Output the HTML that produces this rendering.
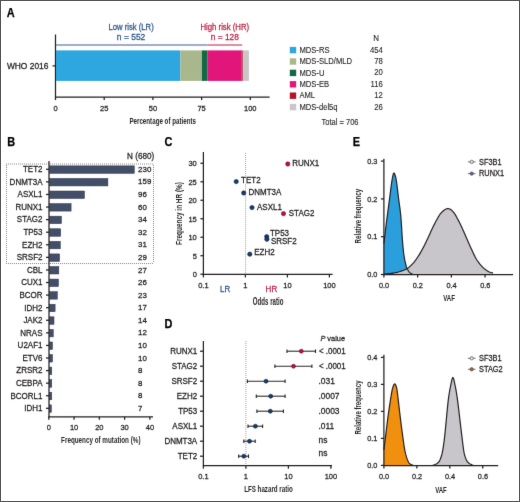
<!DOCTYPE html>
<html><head><meta charset="utf-8"><style>
html,body{margin:0;padding:0;background:#fff;}
.fig{position:relative;width:520px;height:502px;box-sizing:border-box;border:1px solid #545454;overflow:hidden;background:#fff;}
svg{position:absolute;left:-1px;top:-1px;will-change:transform;}
text{font-family:"Liberation Sans",sans-serif;}
</style></head><body><div class="fig">
<svg width="520" height="502" viewBox="0 0 520 502">
<defs><filter id="bl" x="0" y="0" width="520" height="502" filterUnits="userSpaceOnUse" color-interpolation-filters="sRGB"><feConvolveMatrix order="3" kernelMatrix="0.00524 0.06192 0.00524 0.06192 0.73137 0.06192 0.00524 0.06192 0.00524" edgeMode="duplicate" preserveAlpha="false"/></filter></defs>
<g filter="url(#bl)"><rect x="0" y="0" width="520" height="502" fill="#fff"/>
<text x="6.8" y="16.7" font-size="12.4" fill="#000" font-weight="bold" textLength="7.9" lengthAdjust="spacingAndGlyphs" stroke="#000" stroke-width="0.25">A</text>
<text x="7.2" y="145.7" font-size="12.4" fill="#000" font-weight="bold" textLength="7.9" lengthAdjust="spacingAndGlyphs" stroke="#000" stroke-width="0.25">B</text>
<text x="164.4" y="145.9" font-size="12.4" fill="#000" font-weight="bold" textLength="7.9" lengthAdjust="spacingAndGlyphs" stroke="#000" stroke-width="0.25">C</text>
<text x="164.6" y="327.6" font-size="12.4" fill="#000" font-weight="bold" textLength="7.9" lengthAdjust="spacingAndGlyphs" stroke="#000" stroke-width="0.25">D</text>
<text x="352.8" y="146" font-size="12.4" fill="#000" font-weight="bold" textLength="7.3" lengthAdjust="spacingAndGlyphs" stroke="#000" stroke-width="0.25">E</text>
<line x1="55.5" y1="34.5" x2="55.5" y2="97.6" stroke="#231f20" stroke-width="1.25"/>
<line x1="55.0" y1="97.1" x2="269.6" y2="97.1" stroke="#231f20" stroke-width="1.25"/>
<line x1="55.5" y1="97.1" x2="55.5" y2="100.1" stroke="#231f20" stroke-width="1.25"/>
<text x="55.5" y="110.8" font-size="7.9" fill="#231f20" stroke="#231f20" stroke-width="0.26" text-anchor="middle" textLength="4.17" lengthAdjust="spacingAndGlyphs">0</text>
<line x1="104.19999999999999" y1="97.1" x2="104.19999999999999" y2="100.1" stroke="#231f20" stroke-width="1.25"/>
<text x="104.19999999999999" y="110.8" font-size="7.9" fill="#231f20" stroke="#231f20" stroke-width="0.26" text-anchor="middle" textLength="8.35" lengthAdjust="spacingAndGlyphs">25</text>
<line x1="152.89999999999998" y1="97.1" x2="152.89999999999998" y2="100.1" stroke="#231f20" stroke-width="1.25"/>
<text x="152.89999999999998" y="110.8" font-size="7.9" fill="#231f20" stroke="#231f20" stroke-width="0.26" text-anchor="middle" textLength="8.35" lengthAdjust="spacingAndGlyphs">50</text>
<line x1="201.6" y1="97.1" x2="201.6" y2="100.1" stroke="#231f20" stroke-width="1.25"/>
<text x="201.6" y="110.8" font-size="7.9" fill="#231f20" stroke="#231f20" stroke-width="0.26" text-anchor="middle" textLength="8.35" lengthAdjust="spacingAndGlyphs">75</text>
<line x1="250.29999999999998" y1="97.1" x2="250.29999999999998" y2="100.1" stroke="#231f20" stroke-width="1.25"/>
<text x="250.29999999999998" y="110.8" font-size="7.9" fill="#231f20" stroke="#231f20" stroke-width="0.26" text-anchor="middle" textLength="12.52" lengthAdjust="spacingAndGlyphs">100</text>
<line x1="52.5" y1="65.9" x2="55.5" y2="65.9" stroke="#231f20" stroke-width="1.25"/>
<text x="6.9" y="68.5" font-size="8.4" fill="#231f20" stroke="#231f20" stroke-width="0.26" textLength="41.5" lengthAdjust="spacingAndGlyphs">WHO 2016</text>
<line x1="56.0" y1="44.95" x2="207.6" y2="44.95" stroke="#7e92b8" stroke-width="1.6"/>
<line x1="207.6" y1="44.95" x2="242.2" y2="44.95" stroke="#d36a87" stroke-width="1.6"/>
<text x="131.1" y="30.4" font-size="8.4" fill="#2f578c" stroke="#2f578c" stroke-width="0.26" text-anchor="middle" textLength="45.3" lengthAdjust="spacingAndGlyphs">Low risk (LR)</text>
<text x="131.1" y="39.6" font-size="8.4" fill="#2f578c" stroke="#2f578c" stroke-width="0.26" text-anchor="middle" textLength="28.5" lengthAdjust="spacingAndGlyphs">n = 552</text>
<text x="224.8" y="30.4" font-size="8.4" fill="#bf2349" stroke="#bf2349" stroke-width="0.26" text-anchor="middle" textLength="48.7" lengthAdjust="spacingAndGlyphs">High risk (HR)</text>
<text x="224.8" y="39.6" font-size="8.4" fill="#bf2349" stroke="#bf2349" stroke-width="0.26" text-anchor="middle" textLength="28.1" lengthAdjust="spacingAndGlyphs">n = 128</text>
<rect x="56.0" y="50.4" width="124.4" height="30.5" fill="#2ea6df"/>
<rect x="180.4" y="50.4" width="21.5" height="30.5" fill="#a9b88c"/>
<rect x="201.9" y="50.4" width="5.7" height="30.5" fill="#106a46"/>
<rect x="207.6" y="50.4" width="33.8" height="30.5" fill="#e2157a"/>
<rect x="241.4" y="50.4" width="1.4" height="30.5" fill="#b3122d"/>
<rect x="242.8" y="50.4" width="6.1" height="30.5" fill="#c9c6cb"/>
<text x="162.7" y="123.5" font-size="9.7" fill="#231f20" text-anchor="middle" font-weight="bold" textLength="66.6" lengthAdjust="spacingAndGlyphs">Percentage of patients</text>
<text x="376.2" y="40.7" font-size="8.4" fill="#231f20" stroke="#231f20" stroke-width="0.1" text-anchor="middle" textLength="5.76" lengthAdjust="spacingAndGlyphs">N</text>
<rect x="289.8" y="46.9" width="6.4" height="6.4" fill="#2ea6df"/>
<text x="299.4" y="52.7" font-size="8.4" fill="#231f20" stroke="#231f20" stroke-width="0.1" textLength="30.15" lengthAdjust="spacingAndGlyphs">MDS-RS</text>
<text x="382.8" y="52.6" font-size="8.4" fill="#231f20" stroke="#231f20" stroke-width="0.1" text-anchor="end" textLength="12.89" lengthAdjust="spacingAndGlyphs">454</text>
<rect x="289.8" y="58.3" width="6.4" height="6.4" fill="#a9b88c"/>
<text x="299.4" y="64.1" font-size="8.4" fill="#231f20" stroke="#231f20" stroke-width="0.1" textLength="52.67" lengthAdjust="spacingAndGlyphs">MDS-SLD/MLD</text>
<text x="382.8" y="64.0" font-size="8.4" fill="#231f20" stroke="#231f20" stroke-width="0.1" text-anchor="end" textLength="8.6" lengthAdjust="spacingAndGlyphs">78</text>
<rect x="289.8" y="69.7" width="6.4" height="6.4" fill="#106a46"/>
<text x="299.4" y="75.5" font-size="8.4" fill="#231f20" stroke="#231f20" stroke-width="0.1" textLength="25.05" lengthAdjust="spacingAndGlyphs">MDS-U</text>
<text x="382.8" y="75.39999999999999" font-size="8.4" fill="#231f20" stroke="#231f20" stroke-width="0.1" text-anchor="end" textLength="8.6" lengthAdjust="spacingAndGlyphs">20</text>
<rect x="289.8" y="81.10000000000001" width="6.4" height="6.4" fill="#e2157a"/>
<text x="299.4" y="86.9" font-size="8.4" fill="#231f20" stroke="#231f20" stroke-width="0.1" textLength="29.73" lengthAdjust="spacingAndGlyphs">MDS-EB</text>
<text x="382.8" y="86.8" font-size="8.4" fill="#231f20" stroke="#231f20" stroke-width="0.1" text-anchor="end" textLength="12.32" lengthAdjust="spacingAndGlyphs">116</text>
<rect x="289.8" y="92.5" width="6.4" height="6.4" fill="#b3122d"/>
<text x="299.4" y="98.3" font-size="8.4" fill="#231f20" stroke="#231f20" stroke-width="0.1" textLength="15.72" lengthAdjust="spacingAndGlyphs">AML</text>
<text x="382.8" y="98.19999999999999" font-size="8.4" fill="#231f20" stroke="#231f20" stroke-width="0.1" text-anchor="end" textLength="8.6" lengthAdjust="spacingAndGlyphs">12</text>
<rect x="289.8" y="103.9" width="6.4" height="6.4" fill="#c9c6cb"/>
<text x="299.4" y="109.7" font-size="8.4" fill="#231f20" stroke="#231f20" stroke-width="0.1" textLength="38.24" lengthAdjust="spacingAndGlyphs">MDS-del5q</text>
<text x="382.8" y="109.6" font-size="8.4" fill="#231f20" stroke="#231f20" stroke-width="0.1" text-anchor="end" textLength="8.6" lengthAdjust="spacingAndGlyphs">26</text>
<text x="340" y="124.8" font-size="8.4" fill="#231f20" stroke="#231f20" stroke-width="0.1" text-anchor="middle" textLength="37" lengthAdjust="spacingAndGlyphs">Total = 706</text>
<line x1="6" y1="164" x2="154" y2="164" stroke="#888" stroke-width="1" stroke-dasharray="1 1"/>
<line x1="6" y1="263.5" x2="154" y2="263.5" stroke="#888" stroke-width="1" stroke-dasharray="1 1"/>
<line x1="6.5" y1="165" x2="6.5" y2="263" stroke="#888" stroke-width="1" stroke-dasharray="1 1"/>
<line x1="153.5" y1="165" x2="153.5" y2="263" stroke="#888" stroke-width="1" stroke-dasharray="1 1"/>
<rect x="49.5" y="165.85" width="84.77" height="7.5" fill="#434f68" stroke="#2e3548" stroke-width="0.5"/>
<line x1="46" y1="169.3" x2="49.0" y2="169.3" stroke="#231f20" stroke-width="1.25"/>
<text x="42.5" y="172.15" font-size="8.6" fill="#231f20" stroke="#231f20" stroke-width="0.26" text-anchor="end" textLength="19.55" lengthAdjust="spacingAndGlyphs">TET2</text>
<text x="138.1" y="171.9" font-size="7.9" fill="#231f20" stroke="#231f20" stroke-width="0.26" textLength="13.18" lengthAdjust="spacingAndGlyphs">230</text>
<rect x="49.5" y="178.43" width="58.39" height="7.5" fill="#434f68" stroke="#2e3548" stroke-width="0.5"/>
<line x1="46" y1="181.88000000000002" x2="49.0" y2="181.88000000000002" stroke="#231f20" stroke-width="1.25"/>
<text x="42.5" y="184.73000000000002" font-size="8.6" fill="#231f20" stroke="#231f20" stroke-width="0.26" text-anchor="end" textLength="32.88" lengthAdjust="spacingAndGlyphs">DNMT3A</text>
<text x="138.1" y="184.48000000000002" font-size="7.9" fill="#231f20" stroke="#231f20" stroke-width="0.26" textLength="13.18" lengthAdjust="spacingAndGlyphs">159</text>
<rect x="49.5" y="191.01" width="34.98" height="7.5" fill="#434f68" stroke="#2e3548" stroke-width="0.5"/>
<line x1="46" y1="194.46" x2="49.0" y2="194.46" stroke="#231f20" stroke-width="1.25"/>
<text x="42.5" y="197.31" font-size="8.6" fill="#231f20" stroke="#231f20" stroke-width="0.26" text-anchor="end" textLength="24.9" lengthAdjust="spacingAndGlyphs">ASXL1</text>
<text x="138.1" y="197.06" font-size="7.9" fill="#231f20" stroke="#231f20" stroke-width="0.26" textLength="8.79" lengthAdjust="spacingAndGlyphs">96</text>
<rect x="49.5" y="203.59" width="21.6" height="7.5" fill="#434f68" stroke="#2e3548" stroke-width="0.5"/>
<line x1="46" y1="207.04000000000002" x2="49.0" y2="207.04000000000002" stroke="#231f20" stroke-width="1.25"/>
<text x="42.5" y="209.89000000000001" font-size="8.6" fill="#231f20" stroke="#231f20" stroke-width="0.26" text-anchor="end" textLength="27.11" lengthAdjust="spacingAndGlyphs">RUNX1</text>
<text x="138.1" y="209.64000000000001" font-size="7.9" fill="#231f20" stroke="#231f20" stroke-width="0.26" textLength="8.79" lengthAdjust="spacingAndGlyphs">60</text>
<rect x="49.5" y="216.17" width="11.94" height="7.5" fill="#434f68" stroke="#2e3548" stroke-width="0.5"/>
<line x1="46" y1="219.62" x2="49.0" y2="219.62" stroke="#231f20" stroke-width="1.25"/>
<text x="42.5" y="222.47" font-size="8.6" fill="#231f20" stroke="#231f20" stroke-width="0.26" text-anchor="end" textLength="25.63" lengthAdjust="spacingAndGlyphs">STAG2</text>
<text x="138.1" y="222.22" font-size="7.9" fill="#231f20" stroke="#231f20" stroke-width="0.26" textLength="8.79" lengthAdjust="spacingAndGlyphs">34</text>
<rect x="49.5" y="228.75" width="11.19" height="7.5" fill="#434f68" stroke="#2e3548" stroke-width="0.5"/>
<line x1="46" y1="232.20000000000002" x2="49.0" y2="232.20000000000002" stroke="#231f20" stroke-width="1.25"/>
<text x="42.5" y="235.05" font-size="8.6" fill="#231f20" stroke="#231f20" stroke-width="0.26" text-anchor="end" textLength="19.12" lengthAdjust="spacingAndGlyphs">TP53</text>
<text x="138.1" y="234.8" font-size="7.9" fill="#231f20" stroke="#231f20" stroke-width="0.26" textLength="8.79" lengthAdjust="spacingAndGlyphs">32</text>
<rect x="49.5" y="241.33" width="10.82" height="7.5" fill="#434f68" stroke="#2e3548" stroke-width="0.5"/>
<line x1="46" y1="244.78000000000003" x2="49.0" y2="244.78000000000003" stroke="#231f20" stroke-width="1.25"/>
<text x="42.5" y="247.63000000000002" font-size="8.6" fill="#231f20" stroke="#231f20" stroke-width="0.26" text-anchor="end" textLength="20.44" lengthAdjust="spacingAndGlyphs">EZH2</text>
<text x="138.1" y="247.38000000000002" font-size="7.9" fill="#231f20" stroke="#231f20" stroke-width="0.26" textLength="8.79" lengthAdjust="spacingAndGlyphs">31</text>
<rect x="49.5" y="253.91" width="10.08" height="7.5" fill="#434f68" stroke="#2e3548" stroke-width="0.5"/>
<line x1="46" y1="257.36" x2="49.0" y2="257.36" stroke="#231f20" stroke-width="1.25"/>
<text x="42.5" y="260.21000000000004" font-size="8.6" fill="#231f20" stroke="#231f20" stroke-width="0.26" text-anchor="end" textLength="25.78" lengthAdjust="spacingAndGlyphs">SRSF2</text>
<text x="138.1" y="259.96000000000004" font-size="7.9" fill="#231f20" stroke="#231f20" stroke-width="0.26" textLength="8.79" lengthAdjust="spacingAndGlyphs">29</text>
<rect x="49.5" y="266.49" width="9.33" height="7.5" fill="#434f68" stroke="#2e3548" stroke-width="0.5"/>
<line x1="46" y1="269.94" x2="49.0" y2="269.94" stroke="#231f20" stroke-width="1.25"/>
<text x="42.5" y="272.79" font-size="8.6" fill="#231f20" stroke="#231f20" stroke-width="0.26" text-anchor="end" textLength="15.56" lengthAdjust="spacingAndGlyphs">CBL</text>
<text x="138.1" y="272.54" font-size="7.9" fill="#231f20" stroke="#231f20" stroke-width="0.26" textLength="8.79" lengthAdjust="spacingAndGlyphs">27</text>
<rect x="49.5" y="279.07" width="8.96" height="7.5" fill="#434f68" stroke="#2e3548" stroke-width="0.5"/>
<line x1="46" y1="282.52" x2="49.0" y2="282.52" stroke="#231f20" stroke-width="1.25"/>
<text x="42.5" y="285.37" font-size="8.6" fill="#231f20" stroke="#231f20" stroke-width="0.26" text-anchor="end" textLength="21.34" lengthAdjust="spacingAndGlyphs">CUX1</text>
<text x="138.1" y="285.12" font-size="7.9" fill="#231f20" stroke="#231f20" stroke-width="0.26" textLength="8.79" lengthAdjust="spacingAndGlyphs">26</text>
<rect x="49.5" y="291.65" width="7.85" height="7.5" fill="#434f68" stroke="#2e3548" stroke-width="0.5"/>
<line x1="46" y1="295.1" x2="49.0" y2="295.1" stroke="#231f20" stroke-width="1.25"/>
<text x="42.5" y="297.95000000000005" font-size="8.6" fill="#231f20" stroke="#231f20" stroke-width="0.26" text-anchor="end" textLength="23.11" lengthAdjust="spacingAndGlyphs">BCOR</text>
<text x="138.1" y="297.70000000000005" font-size="7.9" fill="#231f20" stroke="#231f20" stroke-width="0.26" textLength="8.79" lengthAdjust="spacingAndGlyphs">23</text>
<rect x="49.5" y="304.23" width="5.62" height="7.5" fill="#434f68" stroke="#2e3548" stroke-width="0.5"/>
<line x1="46" y1="307.68" x2="49.0" y2="307.68" stroke="#231f20" stroke-width="1.25"/>
<text x="42.5" y="310.53000000000003" font-size="8.6" fill="#231f20" stroke="#231f20" stroke-width="0.26" text-anchor="end" textLength="18.22" lengthAdjust="spacingAndGlyphs">IDH2</text>
<text x="138.1" y="310.28000000000003" font-size="7.9" fill="#231f20" stroke="#231f20" stroke-width="0.26" textLength="8.79" lengthAdjust="spacingAndGlyphs">17</text>
<rect x="49.5" y="316.81" width="4.5" height="7.5" fill="#434f68" stroke="#2e3548" stroke-width="0.5"/>
<line x1="46" y1="320.26" x2="49.0" y2="320.26" stroke="#231f20" stroke-width="1.25"/>
<text x="42.5" y="323.11" font-size="8.6" fill="#231f20" stroke="#231f20" stroke-width="0.26" text-anchor="end" textLength="19.12" lengthAdjust="spacingAndGlyphs">JAK2</text>
<text x="138.1" y="322.86" font-size="7.9" fill="#231f20" stroke="#231f20" stroke-width="0.26" textLength="8.79" lengthAdjust="spacingAndGlyphs">14</text>
<rect x="49.5" y="329.39" width="3.76" height="7.5" fill="#434f68" stroke="#2e3548" stroke-width="0.5"/>
<line x1="46" y1="332.84000000000003" x2="49.0" y2="332.84000000000003" stroke="#231f20" stroke-width="1.25"/>
<text x="42.5" y="335.69000000000005" font-size="8.6" fill="#231f20" stroke="#231f20" stroke-width="0.26" text-anchor="end" textLength="22.22" lengthAdjust="spacingAndGlyphs">NRAS</text>
<text x="138.1" y="335.44000000000005" font-size="7.9" fill="#231f20" stroke="#231f20" stroke-width="0.26" textLength="8.79" lengthAdjust="spacingAndGlyphs">12</text>
<rect x="49.5" y="341.97" width="3.02" height="7.5" fill="#434f68" stroke="#2e3548" stroke-width="0.5"/>
<line x1="46" y1="345.42" x2="49.0" y2="345.42" stroke="#231f20" stroke-width="1.25"/>
<text x="42.5" y="348.27000000000004" font-size="8.6" fill="#231f20" stroke="#231f20" stroke-width="0.26" text-anchor="end" textLength="24.89" lengthAdjust="spacingAndGlyphs">U2AF1</text>
<text x="138.1" y="348.02000000000004" font-size="7.9" fill="#231f20" stroke="#231f20" stroke-width="0.26" textLength="8.79" lengthAdjust="spacingAndGlyphs">10</text>
<rect x="49.5" y="354.55" width="3.02" height="7.5" fill="#434f68" stroke="#2e3548" stroke-width="0.5"/>
<line x1="46" y1="358.0" x2="49.0" y2="358.0" stroke="#231f20" stroke-width="1.25"/>
<text x="42.5" y="360.85" font-size="8.6" fill="#231f20" stroke="#231f20" stroke-width="0.26" text-anchor="end" textLength="20.0" lengthAdjust="spacingAndGlyphs">ETV6</text>
<text x="138.1" y="360.6" font-size="7.9" fill="#231f20" stroke="#231f20" stroke-width="0.26" textLength="8.79" lengthAdjust="spacingAndGlyphs">10</text>
<rect x="49.5" y="367.13" width="2.27" height="7.5" fill="#434f68" stroke="#2e3548" stroke-width="0.5"/>
<line x1="46" y1="370.58000000000004" x2="49.0" y2="370.58000000000004" stroke="#231f20" stroke-width="1.25"/>
<text x="42.5" y="373.43000000000006" font-size="8.6" fill="#231f20" stroke="#231f20" stroke-width="0.26" text-anchor="end" textLength="26.22" lengthAdjust="spacingAndGlyphs">ZRSR2</text>
<text x="138.1" y="373.18000000000006" font-size="7.9" fill="#231f20" stroke="#231f20" stroke-width="0.26" textLength="4.39" lengthAdjust="spacingAndGlyphs">8</text>
<rect x="49.5" y="379.71" width="2.27" height="7.5" fill="#434f68" stroke="#2e3548" stroke-width="0.5"/>
<line x1="46" y1="383.16" x2="49.0" y2="383.16" stroke="#231f20" stroke-width="1.25"/>
<text x="42.5" y="386.01000000000005" font-size="8.6" fill="#231f20" stroke="#231f20" stroke-width="0.26" text-anchor="end" textLength="26.52" lengthAdjust="spacingAndGlyphs">CEBPA</text>
<text x="138.1" y="385.76000000000005" font-size="7.9" fill="#231f20" stroke="#231f20" stroke-width="0.26" textLength="4.39" lengthAdjust="spacingAndGlyphs">8</text>
<rect x="49.5" y="392.29" width="2.27" height="7.5" fill="#434f68" stroke="#2e3548" stroke-width="0.5"/>
<line x1="46" y1="395.74" x2="49.0" y2="395.74" stroke="#231f20" stroke-width="1.25"/>
<text x="42.5" y="398.59000000000003" font-size="8.6" fill="#231f20" stroke="#231f20" stroke-width="0.26" text-anchor="end" textLength="32.0" lengthAdjust="spacingAndGlyphs">BCORL1</text>
<text x="138.1" y="398.34000000000003" font-size="7.9" fill="#231f20" stroke="#231f20" stroke-width="0.26" textLength="4.39" lengthAdjust="spacingAndGlyphs">8</text>
<rect x="49.5" y="404.87" width="1.9" height="7.5" fill="#434f68" stroke="#2e3548" stroke-width="0.5"/>
<line x1="46" y1="408.32000000000005" x2="49.0" y2="408.32000000000005" stroke="#231f20" stroke-width="1.25"/>
<text x="42.5" y="411.1700000000001" font-size="8.6" fill="#231f20" stroke="#231f20" stroke-width="0.26" text-anchor="end" textLength="18.22" lengthAdjust="spacingAndGlyphs">IDH1</text>
<text x="138.1" y="410.9200000000001" font-size="7.9" fill="#231f20" stroke="#231f20" stroke-width="0.26" textLength="4.39" lengthAdjust="spacingAndGlyphs">7</text>
<line x1="49.0" y1="161" x2="49.0" y2="417.3" stroke="#231f20" stroke-width="1.25"/>
<line x1="48.5" y1="416.8" x2="153" y2="416.8" stroke="#231f20" stroke-width="1.25"/>
<line x1="48.8" y1="416.8" x2="48.8" y2="419.8" stroke="#231f20" stroke-width="1.25"/>
<text x="48.8" y="429.9" font-size="7.9" fill="#231f20" stroke="#231f20" stroke-width="0.26" text-anchor="middle" textLength="4.17" lengthAdjust="spacingAndGlyphs">0</text>
<line x1="74.07" y1="416.8" x2="74.07" y2="419.8" stroke="#231f20" stroke-width="1.25"/>
<text x="74.07" y="429.9" font-size="7.9" fill="#231f20" stroke="#231f20" stroke-width="0.26" text-anchor="middle" textLength="8.35" lengthAdjust="spacingAndGlyphs">10</text>
<line x1="99.34" y1="416.8" x2="99.34" y2="419.8" stroke="#231f20" stroke-width="1.25"/>
<text x="99.34" y="429.9" font-size="7.9" fill="#231f20" stroke="#231f20" stroke-width="0.26" text-anchor="middle" textLength="8.35" lengthAdjust="spacingAndGlyphs">20</text>
<line x1="124.61" y1="416.8" x2="124.61" y2="419.8" stroke="#231f20" stroke-width="1.25"/>
<text x="124.61" y="429.9" font-size="7.9" fill="#231f20" stroke="#231f20" stroke-width="0.26" text-anchor="middle" textLength="8.35" lengthAdjust="spacingAndGlyphs">30</text>
<line x1="149.88" y1="416.8" x2="149.88" y2="419.8" stroke="#231f20" stroke-width="1.25"/>
<text x="149.88" y="429.9" font-size="7.9" fill="#231f20" stroke="#231f20" stroke-width="0.26" text-anchor="middle" textLength="8.35" lengthAdjust="spacingAndGlyphs">40</text>
<text x="127.1" y="158.6" font-size="8.4" fill="#231f20" stroke="#231f20" stroke-width="0.26" textLength="27.1" lengthAdjust="spacingAndGlyphs">N (680)</text>
<text x="100.8" y="442.5" font-size="9.9" fill="#231f20" text-anchor="middle" font-weight="bold" textLength="79.4" lengthAdjust="spacingAndGlyphs">Frequency of mutation (%)</text>
<line x1="203.4" y1="152" x2="203.4" y2="274.95" stroke="#231f20" stroke-width="1.25"/>
<line x1="202.9" y1="274.45" x2="332.6" y2="274.45" stroke="#231f20" stroke-width="1.25"/>
<line x1="200.4" y1="274.2" x2="203.4" y2="274.2" stroke="#231f20" stroke-width="1.25"/>
<text x="196.8" y="277.0" font-size="7.9" fill="#231f20" stroke="#231f20" stroke-width="0.26" text-anchor="end" textLength="4.17" lengthAdjust="spacingAndGlyphs">0</text>
<line x1="200.4" y1="255.71499999999997" x2="203.4" y2="255.71499999999997" stroke="#231f20" stroke-width="1.25"/>
<text x="196.8" y="258.515" font-size="7.9" fill="#231f20" stroke="#231f20" stroke-width="0.26" text-anchor="end" textLength="4.17" lengthAdjust="spacingAndGlyphs">5</text>
<line x1="200.4" y1="237.23" x2="203.4" y2="237.23" stroke="#231f20" stroke-width="1.25"/>
<text x="196.8" y="240.03" font-size="7.9" fill="#231f20" stroke="#231f20" stroke-width="0.26" text-anchor="end" textLength="8.35" lengthAdjust="spacingAndGlyphs">10</text>
<line x1="200.4" y1="218.745" x2="203.4" y2="218.745" stroke="#231f20" stroke-width="1.25"/>
<text x="196.8" y="221.54500000000002" font-size="7.9" fill="#231f20" stroke="#231f20" stroke-width="0.26" text-anchor="end" textLength="8.35" lengthAdjust="spacingAndGlyphs">15</text>
<line x1="200.4" y1="200.26" x2="203.4" y2="200.26" stroke="#231f20" stroke-width="1.25"/>
<text x="196.8" y="203.06" font-size="7.9" fill="#231f20" stroke="#231f20" stroke-width="0.26" text-anchor="end" textLength="8.35" lengthAdjust="spacingAndGlyphs">20</text>
<line x1="200.4" y1="181.77499999999998" x2="203.4" y2="181.77499999999998" stroke="#231f20" stroke-width="1.25"/>
<text x="196.8" y="184.575" font-size="7.9" fill="#231f20" stroke="#231f20" stroke-width="0.26" text-anchor="end" textLength="8.35" lengthAdjust="spacingAndGlyphs">25</text>
<line x1="200.4" y1="163.29" x2="203.4" y2="163.29" stroke="#231f20" stroke-width="1.25"/>
<text x="196.8" y="166.09" font-size="7.9" fill="#231f20" stroke="#231f20" stroke-width="0.26" text-anchor="end" textLength="8.35" lengthAdjust="spacingAndGlyphs">30</text>
<line x1="203.4" y1="274.45" x2="203.4" y2="277.45" stroke="#231f20" stroke-width="1.25"/>
<text x="203.4" y="288.2" font-size="7.9" fill="#231f20" stroke="#231f20" stroke-width="0.26" text-anchor="middle" textLength="10.43" lengthAdjust="spacingAndGlyphs">0.1</text>
<line x1="245.4" y1="274.45" x2="245.4" y2="277.45" stroke="#231f20" stroke-width="1.25"/>
<text x="245.4" y="288.2" font-size="7.9" fill="#231f20" stroke="#231f20" stroke-width="0.26" text-anchor="middle" textLength="4.17" lengthAdjust="spacingAndGlyphs">1</text>
<line x1="287.4" y1="274.45" x2="287.4" y2="277.45" stroke="#231f20" stroke-width="1.25"/>
<text x="287.4" y="288.2" font-size="7.9" fill="#231f20" stroke="#231f20" stroke-width="0.26" text-anchor="middle" textLength="8.35" lengthAdjust="spacingAndGlyphs">10</text>
<line x1="329.4" y1="274.45" x2="329.4" y2="277.45" stroke="#231f20" stroke-width="1.25"/>
<text x="329.4" y="288.2" font-size="7.9" fill="#231f20" stroke="#231f20" stroke-width="0.26" text-anchor="middle" textLength="12.52" lengthAdjust="spacingAndGlyphs">100</text>
<line x1="245.6" y1="153" x2="245.6" y2="175.6" stroke="#666" stroke-width="0.8" stroke-dasharray="0.8 1.2"/>
<line x1="245.6" y1="183.8" x2="245.6" y2="274.45" stroke="#666" stroke-width="0.8" stroke-dasharray="0.8 1.2"/>
<text x="225.2" y="292.3" font-size="8.8" fill="#2f578c" stroke="#2f578c" stroke-width="0.26" text-anchor="middle" textLength="10.2" lengthAdjust="spacingAndGlyphs">LR</text>
<text x="271.4" y="292.2" font-size="8.8" fill="#bf2349" stroke="#bf2349" stroke-width="0.26" text-anchor="middle" textLength="11.6" lengthAdjust="spacingAndGlyphs">HR</text>
<text x="268.1" y="305.4" font-size="10.0" fill="#231f20" text-anchor="middle" font-weight="bold" textLength="30.6" lengthAdjust="spacingAndGlyphs">Odds ratio</text>
<text transform="translate(182.4 213.5) rotate(-90)" font-size="9.9" font-weight="bold" fill="#231f20" text-anchor="middle" textLength="62.8" lengthAdjust="spacingAndGlyphs">Frequency in HR (%)</text>
<circle cx="287.8" cy="164" r="2.15" fill="#b8133a" stroke="#7a0c25" stroke-width="0.6"/>
<text x="292.2" y="166" font-size="8.4" fill="#231f20" stroke="#231f20" stroke-width="0.26" textLength="27.05" lengthAdjust="spacingAndGlyphs">RUNX1</text>
<circle cx="236.2" cy="181.6" r="2.15" fill="#163c68" stroke="#0b2444" stroke-width="0.6"/>
<text x="241.1" y="183.4" font-size="8.4" fill="#231f20" stroke="#231f20" stroke-width="0.26" textLength="19.51" lengthAdjust="spacingAndGlyphs">TET2</text>
<circle cx="243.7" cy="193" r="2.15" fill="#163c68" stroke="#0b2444" stroke-width="0.6"/>
<text x="248.5" y="194.6" font-size="8.4" fill="#231f20" stroke="#231f20" stroke-width="0.26" textLength="32.81" lengthAdjust="spacingAndGlyphs">DNMT3A</text>
<circle cx="252" cy="207.6" r="2.15" fill="#163c68" stroke="#0b2444" stroke-width="0.6"/>
<text x="257" y="209.6" font-size="8.4" fill="#231f20" stroke="#231f20" stroke-width="0.26" textLength="24.85" lengthAdjust="spacingAndGlyphs">ASXL1</text>
<circle cx="283.5" cy="213.7" r="2.15" fill="#b8133a" stroke="#7a0c25" stroke-width="0.6"/>
<text x="288.8" y="215.6" font-size="8.4" fill="#231f20" stroke="#231f20" stroke-width="0.26" textLength="25.57" lengthAdjust="spacingAndGlyphs">STAG2</text>
<circle cx="266.7" cy="236.7" r="2.15" fill="#163c68" stroke="#0b2444" stroke-width="0.6"/>
<text x="270" y="235.6" font-size="8.4" fill="#231f20" stroke="#231f20" stroke-width="0.26" textLength="19.07" lengthAdjust="spacingAndGlyphs">TP53</text>
<circle cx="266.9" cy="239.3" r="2.15" fill="#163c68" stroke="#0b2444" stroke-width="0.6"/>
<text x="270.9" y="243.5" font-size="8.4" fill="#231f20" stroke="#231f20" stroke-width="0.26" textLength="25.72" lengthAdjust="spacingAndGlyphs">SRSF2</text>
<circle cx="249.8" cy="254.2" r="2.15" fill="#163c68" stroke="#0b2444" stroke-width="0.6"/>
<text x="254.3" y="255.2" font-size="8.4" fill="#231f20" stroke="#231f20" stroke-width="0.26" textLength="20.4" lengthAdjust="spacingAndGlyphs">EZH2</text>
<line x1="203.4" y1="341" x2="203.4" y2="466.2" stroke="#231f20" stroke-width="1.25"/>
<line x1="202.9" y1="465.7" x2="332" y2="465.7" stroke="#231f20" stroke-width="1.25"/>
<line x1="203.4" y1="465.7" x2="203.4" y2="468.7" stroke="#231f20" stroke-width="1.25"/>
<text x="203.4" y="479.3" font-size="7.9" fill="#231f20" stroke="#231f20" stroke-width="0.26" text-anchor="middle" textLength="10.43" lengthAdjust="spacingAndGlyphs">0.1</text>
<line x1="245.9" y1="465.7" x2="245.9" y2="468.7" stroke="#231f20" stroke-width="1.25"/>
<text x="245.9" y="479.3" font-size="7.9" fill="#231f20" stroke="#231f20" stroke-width="0.26" text-anchor="middle" textLength="4.17" lengthAdjust="spacingAndGlyphs">1</text>
<line x1="288.4" y1="465.7" x2="288.4" y2="468.7" stroke="#231f20" stroke-width="1.25"/>
<text x="288.4" y="479.3" font-size="7.9" fill="#231f20" stroke="#231f20" stroke-width="0.26" text-anchor="middle" textLength="8.35" lengthAdjust="spacingAndGlyphs">10</text>
<line x1="330.9" y1="465.7" x2="330.9" y2="468.7" stroke="#231f20" stroke-width="1.25"/>
<text x="330.9" y="479.3" font-size="7.9" fill="#231f20" stroke="#231f20" stroke-width="0.26" text-anchor="middle" textLength="12.52" lengthAdjust="spacingAndGlyphs">100</text>
<line x1="245.9" y1="341" x2="245.9" y2="465.7" stroke="#666" stroke-width="0.8" stroke-dasharray="0.8 1.2"/>
<line x1="200" y1="351.2" x2="203.4" y2="351.2" stroke="#231f20" stroke-width="1.25"/>
<text x="197.2" y="353.9" font-size="8.4" fill="#231f20" stroke="#231f20" stroke-width="0.26" text-anchor="end" textLength="27.05" lengthAdjust="spacingAndGlyphs">RUNX1</text>
<line x1="287" y1="351.2" x2="315.5" y2="351.2" stroke="#2c2c2c" stroke-width="1.1"/>
<line x1="287" y1="349.4" x2="287" y2="353.0" stroke="#222" stroke-width="1.1"/>
<line x1="315.5" y1="349.4" x2="315.5" y2="353.0" stroke="#222" stroke-width="1.1"/>
<circle cx="301.3" cy="351.2" r="2.0" fill="#b8133a" stroke="#7a0c25" stroke-width="0.6"/>
<text x="318.9" y="353.7" font-size="8.4" fill="#231f20" stroke="#231f20" stroke-width="0.26" textLength="26.85" lengthAdjust="spacingAndGlyphs">&lt; .0001</text>
<line x1="200" y1="366.2" x2="203.4" y2="366.2" stroke="#231f20" stroke-width="1.25"/>
<text x="197.2" y="368.9" font-size="8.4" fill="#231f20" stroke="#231f20" stroke-width="0.26" text-anchor="end" textLength="25.57" lengthAdjust="spacingAndGlyphs">STAG2</text>
<line x1="274.9" y1="366.2" x2="311.9" y2="366.2" stroke="#2c2c2c" stroke-width="1.1"/>
<line x1="274.9" y1="364.4" x2="274.9" y2="368.0" stroke="#222" stroke-width="1.1"/>
<line x1="311.9" y1="364.4" x2="311.9" y2="368.0" stroke="#222" stroke-width="1.1"/>
<circle cx="293.5" cy="366.2" r="2.0" fill="#b8133a" stroke="#7a0c25" stroke-width="0.6"/>
<text x="318.9" y="368.7" font-size="8.4" fill="#231f20" stroke="#231f20" stroke-width="0.26" textLength="26.85" lengthAdjust="spacingAndGlyphs">&lt; .0001</text>
<line x1="200" y1="381.2" x2="203.4" y2="381.2" stroke="#231f20" stroke-width="1.25"/>
<text x="197.2" y="383.9" font-size="8.4" fill="#231f20" stroke="#231f20" stroke-width="0.26" text-anchor="end" textLength="25.72" lengthAdjust="spacingAndGlyphs">SRSF2</text>
<line x1="247.4" y1="381.2" x2="285.1" y2="381.2" stroke="#2c2c2c" stroke-width="1.1"/>
<line x1="247.4" y1="379.4" x2="247.4" y2="383.0" stroke="#222" stroke-width="1.1"/>
<line x1="285.1" y1="379.4" x2="285.1" y2="383.0" stroke="#222" stroke-width="1.1"/>
<circle cx="266" cy="381.2" r="2.0" fill="#163c68" stroke="#0b2444" stroke-width="0.6"/>
<text x="318.5" y="383.7" font-size="8.4" fill="#231f20" stroke="#231f20" stroke-width="0.26" textLength="16.35" lengthAdjust="spacingAndGlyphs">.031</text>
<line x1="200" y1="396.2" x2="203.4" y2="396.2" stroke="#231f20" stroke-width="1.25"/>
<text x="197.2" y="398.9" font-size="8.4" fill="#231f20" stroke="#231f20" stroke-width="0.26" text-anchor="end" textLength="20.4" lengthAdjust="spacingAndGlyphs">EZH2</text>
<line x1="256.3" y1="396.2" x2="285.1" y2="396.2" stroke="#2c2c2c" stroke-width="1.1"/>
<line x1="256.3" y1="394.4" x2="256.3" y2="398.0" stroke="#222" stroke-width="1.1"/>
<line x1="285.1" y1="394.4" x2="285.1" y2="398.0" stroke="#222" stroke-width="1.1"/>
<circle cx="270.7" cy="396.2" r="2.0" fill="#163c68" stroke="#0b2444" stroke-width="0.6"/>
<text x="318.5" y="398.7" font-size="8.4" fill="#231f20" stroke="#231f20" stroke-width="0.26" textLength="21.02" lengthAdjust="spacingAndGlyphs">.0007</text>
<line x1="200" y1="411.2" x2="203.4" y2="411.2" stroke="#231f20" stroke-width="1.25"/>
<text x="197.2" y="413.9" font-size="8.4" fill="#231f20" stroke="#231f20" stroke-width="0.26" text-anchor="end" textLength="19.07" lengthAdjust="spacingAndGlyphs">TP53</text>
<line x1="256.9" y1="411.2" x2="283.4" y2="411.2" stroke="#2c2c2c" stroke-width="1.1"/>
<line x1="256.9" y1="409.4" x2="256.9" y2="413.0" stroke="#222" stroke-width="1.1"/>
<line x1="283.4" y1="409.4" x2="283.4" y2="413.0" stroke="#222" stroke-width="1.1"/>
<circle cx="270.3" cy="411.2" r="2.0" fill="#163c68" stroke="#0b2444" stroke-width="0.6"/>
<text x="318.5" y="413.7" font-size="8.4" fill="#231f20" stroke="#231f20" stroke-width="0.26" textLength="21.02" lengthAdjust="spacingAndGlyphs">.0003</text>
<line x1="200" y1="426.2" x2="203.4" y2="426.2" stroke="#231f20" stroke-width="1.25"/>
<text x="197.2" y="428.9" font-size="8.4" fill="#231f20" stroke="#231f20" stroke-width="0.26" text-anchor="end" textLength="24.85" lengthAdjust="spacingAndGlyphs">ASXL1</text>
<line x1="248" y1="426.2" x2="262.6" y2="426.2" stroke="#2c2c2c" stroke-width="1.1"/>
<line x1="248" y1="424.4" x2="248" y2="428.0" stroke="#222" stroke-width="1.1"/>
<line x1="262.6" y1="424.4" x2="262.6" y2="428.0" stroke="#222" stroke-width="1.1"/>
<circle cx="255.4" cy="426.2" r="2.0" fill="#163c68" stroke="#0b2444" stroke-width="0.6"/>
<text x="318.5" y="428.7" font-size="8.4" fill="#231f20" stroke="#231f20" stroke-width="0.26" textLength="15.73" lengthAdjust="spacingAndGlyphs">.011</text>
<line x1="200" y1="441.2" x2="203.4" y2="441.2" stroke="#231f20" stroke-width="1.25"/>
<text x="197.2" y="443.9" font-size="8.4" fill="#231f20" stroke="#231f20" stroke-width="0.26" text-anchor="end" textLength="32.81" lengthAdjust="spacingAndGlyphs">DNMT3A</text>
<line x1="243.8" y1="441.2" x2="255.2" y2="441.2" stroke="#2c2c2c" stroke-width="1.1"/>
<line x1="243.8" y1="439.4" x2="243.8" y2="443.0" stroke="#222" stroke-width="1.1"/>
<line x1="255.2" y1="439.4" x2="255.2" y2="443.0" stroke="#222" stroke-width="1.1"/>
<circle cx="249.5" cy="441.2" r="2.0" fill="#163c68" stroke="#0b2444" stroke-width="0.6"/>
<text x="318.5" y="442.7" font-size="8.4" fill="#231f20" stroke="#231f20" stroke-width="0.26" textLength="8.87" lengthAdjust="spacingAndGlyphs">ns</text>
<line x1="200" y1="456.2" x2="203.4" y2="456.2" stroke="#231f20" stroke-width="1.25"/>
<text x="197.2" y="458.9" font-size="8.4" fill="#231f20" stroke="#231f20" stroke-width="0.26" text-anchor="end" textLength="19.51" lengthAdjust="spacingAndGlyphs">TET2</text>
<line x1="238.7" y1="456.2" x2="248.5" y2="456.2" stroke="#2c2c2c" stroke-width="1.1"/>
<line x1="238.7" y1="454.4" x2="238.7" y2="458.0" stroke="#222" stroke-width="1.1"/>
<line x1="248.5" y1="454.4" x2="248.5" y2="458.0" stroke="#222" stroke-width="1.1"/>
<circle cx="243.8" cy="456.2" r="2.0" fill="#163c68" stroke="#0b2444" stroke-width="0.6"/>
<text x="318.5" y="456.3" font-size="8.4" fill="#231f20" stroke="#231f20" stroke-width="0.26" textLength="8.87" lengthAdjust="spacingAndGlyphs">ns</text>
<text x="320.4" y="341.0" font-size="8.0" fill="#231f20" stroke="#231f20" stroke-width="0.26" textLength="24.6" lengthAdjust="spacingAndGlyphs"><tspan font-style="italic">P</tspan> value</text>
<text x="268.5" y="492.4" font-size="9.9" fill="#231f20" text-anchor="middle" font-weight="bold" textLength="48.7" lengthAdjust="spacingAndGlyphs">LFS hazard ratio</text>
<path d="M383.90,274.5 L383.90,243.50 L384.10,241.85 L384.36,239.68 L384.66,237.10 L385.01,234.22 L385.37,231.15 L385.75,228.02 L386.13,224.93 L386.50,222.00 L386.87,219.10 L387.27,216.08 L387.67,212.98 L388.09,209.88 L388.50,206.81 L388.89,203.86 L389.26,201.07 L389.60,198.50 L389.91,196.13 L390.19,193.88 L390.46,191.76 L390.71,189.77 L390.94,187.90 L391.17,186.15 L391.39,184.51 L391.60,183.00 L391.81,181.62 L392.00,180.38 L392.19,179.26 L392.36,178.27 L392.53,177.38 L392.69,176.58 L392.85,175.85 L393.00,175.20 L393.14,174.63 L393.28,174.16 L393.40,173.78 L393.52,173.49 L393.64,173.27 L393.76,173.12 L393.88,173.04 L394.00,173.00 L394.12,173.02 L394.24,173.11 L394.36,173.27 L394.47,173.49 L394.60,173.77 L394.72,174.12 L394.86,174.53 L395.00,175.00 L395.15,175.48 L395.30,175.94 L395.46,176.44 L395.63,177.01 L395.80,177.71 L395.98,178.58 L396.18,179.66 L396.40,181.00 L396.64,182.66 L396.89,184.63 L397.17,186.84 L397.45,189.20 L397.74,191.65 L398.03,194.12 L398.32,196.52 L398.60,198.80 L398.88,200.93 L399.16,202.99 L399.45,205.00 L399.74,207.03 L400.02,209.09 L400.29,211.25 L400.55,213.54 L400.80,216.00 L401.03,218.71 L401.24,221.67 L401.44,224.79 L401.64,227.98 L401.83,231.16 L402.01,234.25 L402.20,237.16 L402.40,239.80 L402.59,242.20 L402.78,244.44 L402.96,246.55 L403.15,248.54 L403.34,250.43 L403.54,252.24 L403.76,253.99 L404.00,255.70 L404.27,257.38 L404.56,259.01 L404.87,260.58 L405.19,262.07 L405.51,263.46 L405.82,264.74 L406.12,265.90 L406.40,266.90 L406.65,267.72 L406.89,268.36 L407.12,268.86 L407.34,269.26 L407.55,269.58 L407.76,269.87 L407.98,270.16 L408.20,270.50 L408.42,270.86 L408.63,271.19 L408.84,271.50 L409.06,271.79 L409.27,272.07 L409.50,272.33 L409.74,272.57 L410.00,272.80 L410.30,273.02 L410.63,273.23 L411.00,273.42 L411.36,273.59 L411.71,273.75 L412.03,273.89 L412.30,274.01 L412.50,274.10 L412.50,274.5 Z" fill="#2b9fdc"/>
<path d="M384.00,274.5 L384.00,274.10 L384.62,274.05 L385.44,273.98 L386.41,273.90 L387.50,273.81 L388.65,273.71 L389.81,273.59 L390.95,273.45 L392.00,273.30 L393.01,273.13 L394.02,272.95 L395.04,272.75 L396.05,272.54 L397.06,272.31 L398.06,272.06 L399.04,271.79 L400.00,271.50 L400.95,271.19 L401.90,270.88 L402.83,270.54 L403.76,270.19 L404.66,269.81 L405.54,269.40 L406.39,268.97 L407.20,268.50 L407.97,268.00 L408.71,267.46 L409.42,266.90 L410.10,266.31 L410.76,265.69 L411.41,265.05 L412.06,264.38 L412.70,263.70 L413.33,263.00 L413.95,262.27 L414.55,261.52 L415.14,260.75 L415.73,259.95 L416.32,259.13 L416.90,258.28 L417.50,257.40 L418.10,256.49 L418.70,255.56 L419.30,254.59 L419.90,253.61 L420.50,252.59 L421.10,251.55 L421.70,250.49 L422.30,249.40 L422.90,248.28 L423.50,247.13 L424.10,245.94 L424.71,244.74 L425.31,243.51 L425.91,242.28 L426.50,241.04 L427.10,239.80 L427.69,238.55 L428.28,237.28 L428.87,235.99 L429.45,234.70 L430.03,233.41 L430.62,232.12 L431.21,230.85 L431.80,229.60 L432.40,228.36 L432.99,227.11 L433.59,225.86 L434.19,224.62 L434.80,223.41 L435.40,222.23 L436.00,221.09 L436.60,220.00 L437.19,218.95 L437.77,217.92 L438.34,216.91 L438.92,215.95 L439.50,215.03 L440.11,214.16 L440.74,213.35 L441.40,212.60 L442.10,211.89 L442.85,211.20 L443.62,210.54 L444.41,209.95 L445.20,209.44 L445.99,209.03 L446.76,208.74 L447.50,208.60 L448.22,208.61 L448.94,208.75 L449.64,209.01 L450.34,209.38 L451.02,209.84 L451.70,210.37 L452.35,210.96 L453.00,211.60 L453.63,212.31 L454.23,213.10 L454.82,213.98 L455.39,214.93 L455.97,215.92 L456.54,216.96 L457.11,218.02 L457.70,219.10 L458.30,220.21 L458.89,221.36 L459.49,222.56 L460.09,223.79 L460.70,225.04 L461.30,226.32 L461.90,227.61 L462.50,228.90 L463.10,230.21 L463.70,231.55 L464.30,232.91 L464.90,234.29 L465.50,235.67 L466.10,237.06 L466.70,238.43 L467.30,239.80 L467.90,241.17 L468.50,242.54 L469.10,243.93 L469.71,245.31 L470.31,246.67 L470.91,248.01 L471.50,249.33 L472.10,250.60 L472.68,251.84 L473.24,253.04 L473.80,254.22 L474.35,255.38 L474.92,256.52 L475.51,257.63 L476.13,258.72 L476.80,259.80 L477.52,260.88 L478.30,261.96 L479.11,263.03 L479.94,264.08 L480.78,265.08 L481.62,266.03 L482.43,266.91 L483.20,267.70 L483.95,268.41 L484.69,269.04 L485.42,269.60 L486.14,270.11 L486.84,270.57 L487.52,270.98 L488.17,271.36 L488.80,271.70 L489.42,272.00 L490.05,272.25 L490.66,272.44 L491.25,272.60 L491.79,272.73 L492.28,272.83 L492.69,272.92 L493.00,273.00 L493.00,274.5 Z" fill="#c8c6cb"/>
<path d="M384.00,274.10 L384.62,274.05 L385.44,273.98 L386.41,273.90 L387.50,273.81 L388.65,273.71 L389.81,273.59 L390.95,273.45 L392.00,273.30 L393.01,273.13 L394.02,272.95 L395.04,272.75 L396.05,272.54 L397.06,272.31 L398.06,272.06 L399.04,271.79 L400.00,271.50 L400.95,271.19 L401.90,270.88 L402.83,270.54 L403.76,270.19 L404.66,269.81 L405.54,269.40 L406.39,268.97 L407.20,268.50 L407.97,268.00 L408.71,267.46 L409.42,266.90 L410.10,266.31 L410.76,265.69 L411.41,265.05 L412.06,264.38 L412.70,263.70 L413.33,263.00 L413.95,262.27 L414.55,261.52 L415.14,260.75 L415.73,259.95 L416.32,259.13 L416.90,258.28 L417.50,257.40 L418.10,256.49 L418.70,255.56 L419.30,254.59 L419.90,253.61 L420.50,252.59 L421.10,251.55 L421.70,250.49 L422.30,249.40 L422.90,248.28 L423.50,247.13 L424.10,245.94 L424.71,244.74 L425.31,243.51 L425.91,242.28 L426.50,241.04 L427.10,239.80 L427.69,238.55 L428.28,237.28 L428.87,235.99 L429.45,234.70 L430.03,233.41 L430.62,232.12 L431.21,230.85 L431.80,229.60 L432.40,228.36 L432.99,227.11 L433.59,225.86 L434.19,224.62 L434.80,223.41 L435.40,222.23 L436.00,221.09 L436.60,220.00 L437.19,218.95 L437.77,217.92 L438.34,216.91 L438.92,215.95 L439.50,215.03 L440.11,214.16 L440.74,213.35 L441.40,212.60 L442.10,211.89 L442.85,211.20 L443.62,210.54 L444.41,209.95 L445.20,209.44 L445.99,209.03 L446.76,208.74 L447.50,208.60 L448.22,208.61 L448.94,208.75 L449.64,209.01 L450.34,209.38 L451.02,209.84 L451.70,210.37 L452.35,210.96 L453.00,211.60 L453.63,212.31 L454.23,213.10 L454.82,213.98 L455.39,214.93 L455.97,215.92 L456.54,216.96 L457.11,218.02 L457.70,219.10 L458.30,220.21 L458.89,221.36 L459.49,222.56 L460.09,223.79 L460.70,225.04 L461.30,226.32 L461.90,227.61 L462.50,228.90 L463.10,230.21 L463.70,231.55 L464.30,232.91 L464.90,234.29 L465.50,235.67 L466.10,237.06 L466.70,238.43 L467.30,239.80 L467.90,241.17 L468.50,242.54 L469.10,243.93 L469.71,245.31 L470.31,246.67 L470.91,248.01 L471.50,249.33 L472.10,250.60 L472.68,251.84 L473.24,253.04 L473.80,254.22 L474.35,255.38 L474.92,256.52 L475.51,257.63 L476.13,258.72 L476.80,259.80 L477.52,260.88 L478.30,261.96 L479.11,263.03 L479.94,264.08 L480.78,265.08 L481.62,266.03 L482.43,266.91 L483.20,267.70 L483.95,268.41 L484.69,269.04 L485.42,269.60 L486.14,270.11 L486.84,270.57 L487.52,270.98 L488.17,271.36 L488.80,271.70 L489.42,272.00 L490.05,272.25 L490.66,272.44 L491.25,272.60 L491.79,272.73 L492.28,272.83 L492.69,272.92 L493.00,273.00" fill="none" stroke="#231f20" stroke-width="1.2"/>
<path d="M383.90,243.50 L384.10,241.85 L384.36,239.68 L384.66,237.10 L385.01,234.22 L385.37,231.15 L385.75,228.02 L386.13,224.93 L386.50,222.00 L386.87,219.10 L387.27,216.08 L387.67,212.98 L388.09,209.88 L388.50,206.81 L388.89,203.86 L389.26,201.07 L389.60,198.50 L389.91,196.13 L390.19,193.88 L390.46,191.76 L390.71,189.77 L390.94,187.90 L391.17,186.15 L391.39,184.51 L391.60,183.00 L391.81,181.62 L392.00,180.38 L392.19,179.26 L392.36,178.27 L392.53,177.38 L392.69,176.58 L392.85,175.85 L393.00,175.20 L393.14,174.63 L393.28,174.16 L393.40,173.78 L393.52,173.49 L393.64,173.27 L393.76,173.12 L393.88,173.04 L394.00,173.00 L394.12,173.02 L394.24,173.11 L394.36,173.27 L394.47,173.49 L394.60,173.77 L394.72,174.12 L394.86,174.53 L395.00,175.00 L395.15,175.48 L395.30,175.94 L395.46,176.44 L395.63,177.01 L395.80,177.71 L395.98,178.58 L396.18,179.66 L396.40,181.00 L396.64,182.66 L396.89,184.63 L397.17,186.84 L397.45,189.20 L397.74,191.65 L398.03,194.12 L398.32,196.52 L398.60,198.80 L398.88,200.93 L399.16,202.99 L399.45,205.00 L399.74,207.03 L400.02,209.09 L400.29,211.25 L400.55,213.54 L400.80,216.00 L401.03,218.71 L401.24,221.67 L401.44,224.79 L401.64,227.98 L401.83,231.16 L402.01,234.25 L402.20,237.16 L402.40,239.80 L402.59,242.20 L402.78,244.44 L402.96,246.55 L403.15,248.54 L403.34,250.43 L403.54,252.24 L403.76,253.99 L404.00,255.70 L404.27,257.38 L404.56,259.01 L404.87,260.58 L405.19,262.07 L405.51,263.46 L405.82,264.74 L406.12,265.90 L406.40,266.90 L406.65,267.72 L406.89,268.36 L407.12,268.86 L407.34,269.26 L407.55,269.58 L407.76,269.87 L407.98,270.16 L408.20,270.50 L408.42,270.86 L408.63,271.19 L408.84,271.50 L409.06,271.79 L409.27,272.07 L409.50,272.33 L409.74,272.57 L410.00,272.80 L410.30,273.02 L410.63,273.23 L411.00,273.42 L411.36,273.59 L411.71,273.75 L412.03,273.89 L412.30,274.01 L412.50,274.10" fill="none" stroke="#231f20" stroke-width="1.2"/>
<line x1="383.9" y1="158.7" x2="383.9" y2="275.0" stroke="#231f20" stroke-width="1.25"/>
<line x1="383.4" y1="274.5" x2="513.1" y2="274.5" stroke="#231f20" stroke-width="1.25"/>
<line x1="380.9" y1="274.5" x2="383.9" y2="274.5" stroke="#231f20" stroke-width="1.25"/>
<text x="377.4" y="277.25" font-size="7.9" fill="#231f20" stroke="#231f20" stroke-width="0.26" text-anchor="end" textLength="10.21" lengthAdjust="spacingAndGlyphs">0.0</text>
<line x1="380.9" y1="236.7" x2="383.9" y2="236.7" stroke="#231f20" stroke-width="1.25"/>
<text x="377.4" y="239.45" font-size="7.9" fill="#231f20" stroke="#231f20" stroke-width="0.26" text-anchor="end" textLength="10.21" lengthAdjust="spacingAndGlyphs">0.1</text>
<line x1="380.9" y1="198.89999999999998" x2="383.9" y2="198.89999999999998" stroke="#231f20" stroke-width="1.25"/>
<text x="377.4" y="201.64999999999998" font-size="7.9" fill="#231f20" stroke="#231f20" stroke-width="0.26" text-anchor="end" textLength="10.21" lengthAdjust="spacingAndGlyphs">0.2</text>
<line x1="380.9" y1="161.10000000000002" x2="383.9" y2="161.10000000000002" stroke="#231f20" stroke-width="1.25"/>
<text x="377.4" y="163.85000000000002" font-size="7.9" fill="#231f20" stroke="#231f20" stroke-width="0.26" text-anchor="end" textLength="10.21" lengthAdjust="spacingAndGlyphs">0.3</text>
<line x1="383.9" y1="274.5" x2="383.9" y2="277.5" stroke="#231f20" stroke-width="1.25"/>
<text x="384.09999999999997" y="287.6" font-size="7.9" fill="#231f20" stroke="#231f20" stroke-width="0.26" text-anchor="middle" textLength="10.21" lengthAdjust="spacingAndGlyphs">0.0</text>
<line x1="417.62" y1="274.5" x2="417.62" y2="277.5" stroke="#231f20" stroke-width="1.25"/>
<text x="417.82" y="287.6" font-size="7.9" fill="#231f20" stroke="#231f20" stroke-width="0.26" text-anchor="middle" textLength="10.21" lengthAdjust="spacingAndGlyphs">0.2</text>
<line x1="451.34" y1="274.5" x2="451.34" y2="277.5" stroke="#231f20" stroke-width="1.25"/>
<text x="451.53999999999996" y="287.6" font-size="7.9" fill="#231f20" stroke="#231f20" stroke-width="0.26" text-anchor="middle" textLength="10.21" lengthAdjust="spacingAndGlyphs">0.4</text>
<line x1="485.05999999999995" y1="274.5" x2="485.05999999999995" y2="277.5" stroke="#231f20" stroke-width="1.25"/>
<text x="485.25999999999993" y="287.6" font-size="7.9" fill="#231f20" stroke="#231f20" stroke-width="0.26" text-anchor="middle" textLength="10.21" lengthAdjust="spacingAndGlyphs">0.6</text>
<text x="449.1" y="300.9" font-size="9.7" fill="#231f20" text-anchor="middle" font-weight="bold" textLength="11.6" lengthAdjust="spacingAndGlyphs">VAF</text>
<text transform="translate(360.5 216.1) rotate(-90)" font-size="9.7" font-weight="bold" fill="#231f20" text-anchor="middle" textLength="54.6" lengthAdjust="spacingAndGlyphs">Relative frequency</text>
<line x1="467.8" y1="161.9" x2="475.6" y2="161.9" stroke="#555" stroke-width="0.8"/>
<circle cx="471.7" cy="161.9" r="1.7" fill="#ddd" stroke="#444" stroke-width="0.6"/>
<text x="479" y="164.8" font-size="8.4" fill="#231f20" stroke="#231f20" stroke-width="0.26" textLength="22.6" lengthAdjust="spacingAndGlyphs">SF3B1</text>
<line x1="467.8" y1="173.6" x2="475.6" y2="173.6" stroke="#555" stroke-width="0.8"/>
<circle cx="471.7" cy="173.6" r="1.7" fill="#4a6a8c" stroke="#444" stroke-width="0.6"/>
<text x="479" y="176.2" font-size="8.4" fill="#231f20" stroke="#231f20" stroke-width="0.26" textLength="25.06" lengthAdjust="spacingAndGlyphs">RUNX1</text>
<path d="M383.90,465.6 L383.90,449.90 L384.05,448.67 L384.25,447.05 L384.49,445.12 L384.76,442.97 L385.05,440.68 L385.34,438.33 L385.63,436.01 L385.90,433.80 L386.16,431.65 L386.42,429.45 L386.69,427.22 L386.96,424.97 L387.23,422.70 L387.51,420.42 L387.80,418.15 L388.10,415.90 L388.42,413.60 L388.76,411.21 L389.12,408.79 L389.48,406.39 L389.83,404.05 L390.18,401.82 L390.50,399.75 L390.80,397.90 L391.07,396.25 L391.31,394.76 L391.53,393.42 L391.74,392.19 L391.94,391.08 L392.15,390.05 L392.37,389.10 L392.60,388.20 L392.85,387.35 L393.11,386.55 L393.37,385.83 L393.64,385.20 L393.91,384.67 L394.18,384.27 L394.45,384.01 L394.70,383.90 L394.95,383.95 L395.20,384.15 L395.45,384.49 L395.69,384.95 L395.93,385.52 L396.16,386.20 L396.39,386.96 L396.60,387.80 L396.79,388.71 L396.97,389.70 L397.13,390.79 L397.29,391.97 L397.45,393.26 L397.61,394.67 L397.79,396.22 L398.00,397.90 L398.23,399.77 L398.47,401.85 L398.73,404.08 L398.99,406.41 L399.27,408.81 L399.54,411.22 L399.82,413.60 L400.10,415.90 L400.38,418.14 L400.65,420.38 L400.93,422.62 L401.21,424.86 L401.50,427.09 L401.79,429.33 L402.09,431.56 L402.40,433.80 L402.71,436.09 L403.03,438.46 L403.36,440.86 L403.69,443.24 L404.03,445.56 L404.37,447.77 L404.73,449.84 L405.10,451.70 L405.49,453.39 L405.89,454.94 L406.31,456.38 L406.73,457.69 L407.16,458.89 L407.58,459.97 L408.00,460.94 L408.40,461.80 L408.80,462.51 L409.19,463.06 L409.59,463.47 L409.97,463.78 L410.35,464.02 L410.72,464.21 L411.07,464.40 L411.40,464.60 L411.72,464.80 L412.04,464.96 L412.35,465.08 L412.64,465.18 L412.91,465.25 L413.14,465.30 L413.34,465.35 L413.50,465.40 L413.50,465.6 Z" fill="#f0900e"/>
<path d="M383.90,449.90 L384.05,448.67 L384.25,447.05 L384.49,445.12 L384.76,442.97 L385.05,440.68 L385.34,438.33 L385.63,436.01 L385.90,433.80 L386.16,431.65 L386.42,429.45 L386.69,427.22 L386.96,424.97 L387.23,422.70 L387.51,420.42 L387.80,418.15 L388.10,415.90 L388.42,413.60 L388.76,411.21 L389.12,408.79 L389.48,406.39 L389.83,404.05 L390.18,401.82 L390.50,399.75 L390.80,397.90 L391.07,396.25 L391.31,394.76 L391.53,393.42 L391.74,392.19 L391.94,391.08 L392.15,390.05 L392.37,389.10 L392.60,388.20 L392.85,387.35 L393.11,386.55 L393.37,385.83 L393.64,385.20 L393.91,384.67 L394.18,384.27 L394.45,384.01 L394.70,383.90 L394.95,383.95 L395.20,384.15 L395.45,384.49 L395.69,384.95 L395.93,385.52 L396.16,386.20 L396.39,386.96 L396.60,387.80 L396.79,388.71 L396.97,389.70 L397.13,390.79 L397.29,391.97 L397.45,393.26 L397.61,394.67 L397.79,396.22 L398.00,397.90 L398.23,399.77 L398.47,401.85 L398.73,404.08 L398.99,406.41 L399.27,408.81 L399.54,411.22 L399.82,413.60 L400.10,415.90 L400.38,418.14 L400.65,420.38 L400.93,422.62 L401.21,424.86 L401.50,427.09 L401.79,429.33 L402.09,431.56 L402.40,433.80 L402.71,436.09 L403.03,438.46 L403.36,440.86 L403.69,443.24 L404.03,445.56 L404.37,447.77 L404.73,449.84 L405.10,451.70 L405.49,453.39 L405.89,454.94 L406.31,456.38 L406.73,457.69 L407.16,458.89 L407.58,459.97 L408.00,460.94 L408.40,461.80 L408.80,462.51 L409.19,463.06 L409.59,463.47 L409.97,463.78 L410.35,464.02 L410.72,464.21 L411.07,464.40 L411.40,464.60 L411.72,464.80 L412.04,464.96 L412.35,465.08 L412.64,465.18 L412.91,465.25 L413.14,465.30 L413.34,465.35 L413.50,465.40" fill="none" stroke="#231f20" stroke-width="1.2"/>
<path d="M432.50,465.6 L432.50,465.40 L432.64,465.37 L432.80,465.35 L432.99,465.33 L433.22,465.30 L433.48,465.24 L433.78,465.15 L434.12,465.00 L434.50,464.80 L434.95,464.56 L435.48,464.29 L436.07,464.00 L436.69,463.66 L437.31,463.26 L437.92,462.79 L438.49,462.24 L439.00,461.60 L439.45,460.88 L439.87,460.10 L440.27,459.25 L440.64,458.33 L440.99,457.32 L441.33,456.21 L441.67,455.01 L442.00,453.70 L442.32,452.28 L442.63,450.77 L442.93,449.16 L443.21,447.45 L443.49,445.65 L443.76,443.76 L444.03,441.77 L444.30,439.70 L444.56,437.49 L444.82,435.14 L445.07,432.67 L445.32,430.12 L445.56,427.52 L445.81,424.91 L446.05,422.33 L446.30,419.80 L446.55,417.27 L446.80,414.67 L447.04,412.05 L447.29,409.44 L447.54,406.89 L447.79,404.42 L448.04,402.08 L448.30,399.90 L448.56,397.88 L448.83,395.99 L449.10,394.20 L449.38,392.51 L449.65,390.91 L449.93,389.38 L450.21,387.92 L450.50,386.50 L450.79,385.05 L451.09,383.54 L451.39,382.05 L451.69,380.66 L451.99,379.44 L452.30,378.47 L452.60,377.83 L452.90,377.60 L453.20,377.83 L453.50,378.47 L453.81,379.44 L454.11,380.66 L454.41,382.05 L454.71,383.54 L455.01,385.05 L455.30,386.50 L455.58,387.92 L455.86,389.38 L456.13,390.91 L456.40,392.51 L456.67,394.20 L456.94,395.99 L457.22,397.88 L457.50,399.90 L457.79,402.08 L458.09,404.42 L458.39,406.89 L458.69,409.44 L458.99,412.05 L459.30,414.67 L459.60,417.27 L459.90,419.80 L460.20,422.33 L460.51,424.91 L460.82,427.52 L461.12,430.12 L461.43,432.67 L461.73,435.14 L462.02,437.49 L462.30,439.70 L462.56,441.77 L462.80,443.76 L463.03,445.65 L463.26,447.45 L463.49,449.16 L463.73,450.77 L464.00,452.28 L464.30,453.70 L464.63,455.01 L464.97,456.21 L465.32,457.32 L465.70,458.32 L466.09,459.25 L466.51,460.10 L466.94,460.88 L467.40,461.60 L467.91,462.24 L468.47,462.79 L469.07,463.26 L469.69,463.66 L470.29,464.00 L470.86,464.29 L471.37,464.56 L471.80,464.80 L472.15,465.00 L472.45,465.15 L472.71,465.24 L472.93,465.30 L473.11,465.33 L473.26,465.35 L473.39,465.37 L473.50,465.40 L473.50,465.6 Z" fill="#c8c6cb"/>
<path d="M432.50,465.40 L432.64,465.37 L432.80,465.35 L432.99,465.33 L433.22,465.30 L433.48,465.24 L433.78,465.15 L434.12,465.00 L434.50,464.80 L434.95,464.56 L435.48,464.29 L436.07,464.00 L436.69,463.66 L437.31,463.26 L437.92,462.79 L438.49,462.24 L439.00,461.60 L439.45,460.88 L439.87,460.10 L440.27,459.25 L440.64,458.33 L440.99,457.32 L441.33,456.21 L441.67,455.01 L442.00,453.70 L442.32,452.28 L442.63,450.77 L442.93,449.16 L443.21,447.45 L443.49,445.65 L443.76,443.76 L444.03,441.77 L444.30,439.70 L444.56,437.49 L444.82,435.14 L445.07,432.67 L445.32,430.12 L445.56,427.52 L445.81,424.91 L446.05,422.33 L446.30,419.80 L446.55,417.27 L446.80,414.67 L447.04,412.05 L447.29,409.44 L447.54,406.89 L447.79,404.42 L448.04,402.08 L448.30,399.90 L448.56,397.88 L448.83,395.99 L449.10,394.20 L449.38,392.51 L449.65,390.91 L449.93,389.38 L450.21,387.92 L450.50,386.50 L450.79,385.05 L451.09,383.54 L451.39,382.05 L451.69,380.66 L451.99,379.44 L452.30,378.47 L452.60,377.83 L452.90,377.60 L453.20,377.83 L453.50,378.47 L453.81,379.44 L454.11,380.66 L454.41,382.05 L454.71,383.54 L455.01,385.05 L455.30,386.50 L455.58,387.92 L455.86,389.38 L456.13,390.91 L456.40,392.51 L456.67,394.20 L456.94,395.99 L457.22,397.88 L457.50,399.90 L457.79,402.08 L458.09,404.42 L458.39,406.89 L458.69,409.44 L458.99,412.05 L459.30,414.67 L459.60,417.27 L459.90,419.80 L460.20,422.33 L460.51,424.91 L460.82,427.52 L461.12,430.12 L461.43,432.67 L461.73,435.14 L462.02,437.49 L462.30,439.70 L462.56,441.77 L462.80,443.76 L463.03,445.65 L463.26,447.45 L463.49,449.16 L463.73,450.77 L464.00,452.28 L464.30,453.70 L464.63,455.01 L464.97,456.21 L465.32,457.32 L465.70,458.32 L466.09,459.25 L466.51,460.10 L466.94,460.88 L467.40,461.60 L467.91,462.24 L468.47,462.79 L469.07,463.26 L469.69,463.66 L470.29,464.00 L470.86,464.29 L471.37,464.56 L471.80,464.80 L472.15,465.00 L472.45,465.15 L472.71,465.24 L472.93,465.30 L473.11,465.33 L473.26,465.35 L473.39,465.37 L473.50,465.40" fill="none" stroke="#231f20" stroke-width="1.2"/>
<line x1="383.9" y1="354.8" x2="383.9" y2="466.1" stroke="#231f20" stroke-width="1.25"/>
<line x1="383.4" y1="465.6" x2="498.2" y2="465.6" stroke="#231f20" stroke-width="1.25"/>
<line x1="380.9" y1="465.4" x2="383.9" y2="465.4" stroke="#231f20" stroke-width="1.25"/>
<text x="377.4" y="468.15" font-size="7.9" fill="#231f20" stroke="#231f20" stroke-width="0.26" text-anchor="end" textLength="10.21" lengthAdjust="spacingAndGlyphs">0.0</text>
<line x1="380.9" y1="438.4" x2="383.9" y2="438.4" stroke="#231f20" stroke-width="1.25"/>
<text x="377.4" y="441.15" font-size="7.9" fill="#231f20" stroke="#231f20" stroke-width="0.26" text-anchor="end" textLength="10.21" lengthAdjust="spacingAndGlyphs">0.1</text>
<line x1="380.9" y1="411.4" x2="383.9" y2="411.4" stroke="#231f20" stroke-width="1.25"/>
<text x="377.4" y="414.15" font-size="7.9" fill="#231f20" stroke="#231f20" stroke-width="0.26" text-anchor="end" textLength="10.21" lengthAdjust="spacingAndGlyphs">0.2</text>
<line x1="380.9" y1="384.4" x2="383.9" y2="384.4" stroke="#231f20" stroke-width="1.25"/>
<text x="377.4" y="387.15" font-size="7.9" fill="#231f20" stroke="#231f20" stroke-width="0.26" text-anchor="end" textLength="10.21" lengthAdjust="spacingAndGlyphs">0.3</text>
<line x1="380.9" y1="357.4" x2="383.9" y2="357.4" stroke="#231f20" stroke-width="1.25"/>
<text x="377.4" y="360.15" font-size="7.9" fill="#231f20" stroke="#231f20" stroke-width="0.26" text-anchor="end" textLength="10.21" lengthAdjust="spacingAndGlyphs">0.4</text>
<line x1="383.9" y1="465.6" x2="383.9" y2="468.6" stroke="#231f20" stroke-width="1.25"/>
<text x="384.09999999999997" y="479.4" font-size="7.9" fill="#231f20" stroke="#231f20" stroke-width="0.26" text-anchor="middle" textLength="10.21" lengthAdjust="spacingAndGlyphs">0.0</text>
<line x1="416.84" y1="465.6" x2="416.84" y2="468.6" stroke="#231f20" stroke-width="1.25"/>
<text x="417.03999999999996" y="479.4" font-size="7.9" fill="#231f20" stroke="#231f20" stroke-width="0.26" text-anchor="middle" textLength="10.21" lengthAdjust="spacingAndGlyphs">0.2</text>
<line x1="449.78" y1="465.6" x2="449.78" y2="468.6" stroke="#231f20" stroke-width="1.25"/>
<text x="449.97999999999996" y="479.4" font-size="7.9" fill="#231f20" stroke="#231f20" stroke-width="0.26" text-anchor="middle" textLength="10.21" lengthAdjust="spacingAndGlyphs">0.4</text>
<line x1="482.71999999999997" y1="465.6" x2="482.71999999999997" y2="468.6" stroke="#231f20" stroke-width="1.25"/>
<text x="482.91999999999996" y="479.4" font-size="7.9" fill="#231f20" stroke="#231f20" stroke-width="0.26" text-anchor="middle" textLength="10.21" lengthAdjust="spacingAndGlyphs">0.6</text>
<text x="441.0" y="492.5" font-size="9.7" fill="#231f20" text-anchor="middle" font-weight="bold" textLength="11.6" lengthAdjust="spacingAndGlyphs">VAF</text>
<text transform="translate(360.5 407.5) rotate(-90)" font-size="9.7" font-weight="bold" fill="#231f20" text-anchor="middle" textLength="54.2" lengthAdjust="spacingAndGlyphs">Relative frequency</text>
<line x1="467.8" y1="358.3" x2="475.6" y2="358.3" stroke="#555" stroke-width="0.8"/>
<circle cx="471.7" cy="358.3" r="1.7" fill="#ddd" stroke="#444" stroke-width="0.6"/>
<text x="479" y="360.8" font-size="8.4" fill="#231f20" stroke="#231f20" stroke-width="0.26" textLength="22.6" lengthAdjust="spacingAndGlyphs">SF3B1</text>
<line x1="467.8" y1="369.3" x2="475.6" y2="369.3" stroke="#555" stroke-width="0.8"/>
<circle cx="471.7" cy="369.3" r="1.7" fill="#9a6a30" stroke="#444" stroke-width="0.6"/>
<text x="479" y="371.7" font-size="8.4" fill="#231f20" stroke="#231f20" stroke-width="0.26" textLength="23.69" lengthAdjust="spacingAndGlyphs">STAG2</text>
</g></svg></div></body></html>
